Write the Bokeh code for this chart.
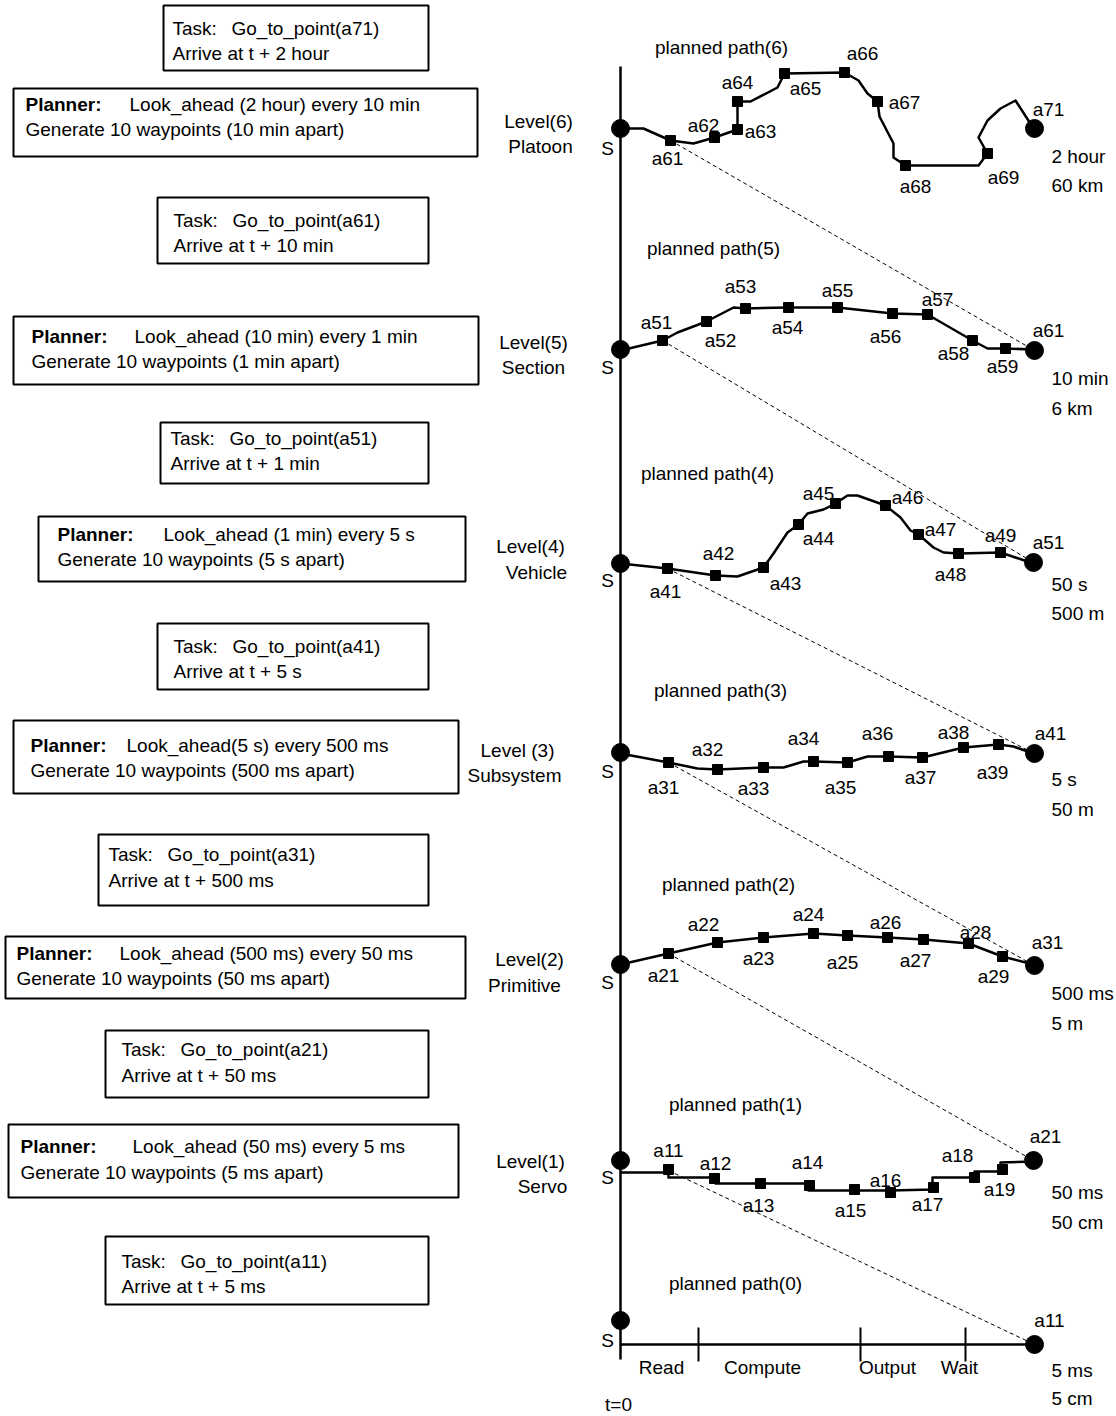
from bokeh.plotting import figure
from bokeh.models import Range1d
from bokeh.embed import file_html
from bokeh.resources import INLINE
from bokeh.core.properties import value

FONT = "Liberation Sans"
FS = "19px"

# ---------------- data (diagram coordinates, y grows downward) ----------------
levels = [6, 5, 4, 3, 2, 1, 0]
level_y = [128, 349, 563, 752, 964, 1160, 1320]        # start circle "S" per level
goal_x = [1034, 1034, 1033, 1034, 1034, 1033, 1034]
goal_y = [128, 350, 562, 753, 965, 1160, 1344]
goal_names = ["a71", "a61", "a51", "a41", "a31", "a21", "a11"]
goal_lbl_x = [1048, 1048, 1048, 1050, 1047, 1045, 1049]
goal_lbl_y = [109, 330, 542, 733, 942, 1136, 1320]

horizon_top = ["2 hour", "10 min", "50 s", "5 s", "500 ms", "50 ms", "5 ms"]
horizon_bot = ["60 km", "6 km", "500 m", "50 m", "5 m", "50 cm", "5 cm"]
horizon_y1 = [156, 378, 584, 779, 993, 1192, 1370]
horizon_y2 = [185, 408, 613, 809, 1023, 1222, 1398]

pp_names = ["planned path(6)", "planned path(5)", "planned path(4)", "planned path(3)",
            "planned path(2)", "planned path(1)", "planned path(0)"]
pp_x = [721, 713, 707, 720, 728, 735, 735]
pp_y = [47, 248, 473, 690, 884, 1104, 1283]

s_lbl_y = [148, 367, 580, 771, 982, 1177, 1340]

# level 6 path
path6_x = [620, 643, 670, 693, 714, 737, 737, 750, 777, 784, 844, 858, 867, 877, 879, 893, 893, 905, 978, 987, 978, 987, 1000, 1015, 1033]
path6_y = [128, 128, 140, 143, 137, 129, 101, 101, 87, 73, 72, 80, 93, 101, 116, 143, 157, 165, 165, 153, 137, 120, 108, 100, 128]
wp6_x = [670, 714, 737, 737, 784, 844, 877, 905, 987]
wp6_y = [140, 137, 129, 101, 73, 72, 101, 165, 153]
lbl6 = ["a61", "a62", "a63", "a64", "a65", "a66", "a67", "a68", "a69"]
lbl6_x = [667, 703, 760, 737, 805, 862, 904, 915, 1003]
lbl6_y = [158, 125, 131, 82, 88, 53, 102, 186, 177]

# level 5 path
path5_x = [620, 662, 677, 706, 733, 745, 788, 837, 892, 927, 972, 987, 1005, 1033]
path5_y = [350, 340, 332, 321, 307, 308, 307, 307, 313, 314, 340, 348, 348, 349]
wp5_x = [662, 706, 745, 788, 837, 892, 927, 972, 1005]
wp5_y = [340, 321, 308, 307, 307, 313, 314, 340, 348]
lbl5 = ["a51", "a52", "a53", "a54", "a55", "a56", "a57", "a58", "a59"]
lbl5_x = [656, 720, 740, 787, 837, 885, 937, 953, 1002]
lbl5_y = [322, 340, 286, 327, 290, 336, 299, 353, 366]

# level 4 path
path4_x = [620, 667, 715, 737, 763, 773, 787, 798, 807, 823, 835, 847, 857, 885, 900, 910, 918, 933, 943, 958, 1000, 1033]
path4_y = [563, 568, 575, 576, 567, 553, 532, 524, 513, 509, 503, 495, 495, 505, 517, 530, 534, 547, 552, 553, 552, 563]
wp4_x = [667, 715, 763, 798, 835, 885, 918, 958, 1000]
wp4_y = [568, 575, 567, 524, 503, 505, 534, 553, 552]
lbl4 = ["a41", "a42", "a43", "a44", "a45", "a46", "a47", "a48", "a49"]
lbl4_x = [665, 718, 785, 818, 818, 907, 940, 950, 1000]
lbl4_y = [591, 553, 583, 538, 493, 497, 529, 574, 535]

# level 3 path
path3_x = [620, 668, 697, 717, 763, 783, 803, 813, 847, 867, 888, 922, 963, 998, 1013, 1033]
path3_y = [753, 762, 768, 769, 767, 767, 761, 761, 762, 756, 756, 757, 747, 744, 746, 753]
wp3_x = [668, 717, 763, 813, 847, 888, 922, 963, 998]
wp3_y = [762, 769, 767, 761, 762, 756, 757, 747, 744]
lbl3 = ["a31", "a32", "a33", "a34", "a35", "a36", "a37", "a38", "a39"]
lbl3_x = [663, 707, 753, 803, 840, 877, 920, 953, 992]
lbl3_y = [787, 749, 788, 738, 787, 733, 777, 732, 772]

# level 2 path
path2_x = [620, 668, 717, 763, 813, 847, 887, 923, 968, 1002, 1033]
path2_y = [964, 953, 942, 937, 933, 935, 937, 939, 943, 956, 964]
wp2_x = [668, 717, 763, 813, 847, 887, 923, 968, 1002]
wp2_y = [953, 942, 937, 933, 935, 937, 939, 943, 956]
lbl2 = ["a21", "a22", "a23", "a24", "a25", "a26", "a27", "a28", "a29"]
lbl2_x = [663, 703, 758, 808, 842, 885, 915, 975, 993]
lbl2_y = [975, 924, 958, 914, 962, 922, 960, 932, 976]

# level 1 path (stepped)
path1_x = [620, 668, 668, 715, 715, 808, 808, 890, 932, 932, 974, 974, 1000, 1000, 1033]
path1_y = [1172, 1172, 1177, 1177, 1183, 1183, 1190, 1190, 1189, 1177, 1177, 1171, 1171, 1162, 1161]
wp1_x = [668, 714, 760, 809, 854, 890, 933, 974, 1002]
wp1_y = [1169, 1178, 1183, 1185, 1189, 1192, 1187, 1177, 1169]
lbl1 = ["a11", "a12", "a13", "a14", "a15", "a16", "a17", "a18", "a19"]
lbl1_x = [668, 715, 758, 807, 850, 885, 927, 957, 999]
lbl1_y = [1150, 1163, 1205, 1162, 1210, 1180, 1204, 1155, 1189]

# dashed projection lines: first waypoint of a level -> goal of the level below
dash_x0 = [670, 662, 667, 668, 668, 668]
dash_y0 = [140, 340, 568, 762, 953, 1170]
dash_x1 = [1034, 1033, 1034, 1034, 1033, 1034]
dash_y1 = [350, 562, 753, 965, 1160, 1344]

# level 0 timeline
phase_ticks = [698, 860, 965]
phase_names = ["Read", "Compute", "Output", "Wait"]
phase_lbl_x = [661, 762, 887, 959]

# level names
level_names1 = ["Level(6)", "Level(5)", "Level(4)", "Level (3)", "Level(2)", "Level(1)"]
level_names2 = ["Platoon", "Section", "Vehicle", "Subsystem", "Primitive", "Servo"]
level_nm_x1 = [538, 533, 530, 517, 529, 530]
level_nm_x2 = [540, 533, 536, 514, 524, 542]
level_nm_y1 = [121, 342, 546, 750, 959, 1161]
level_nm_y2 = [146, 367, 572, 775, 985, 1186]

# task boxes
task_l1 = ["Go_to_point(a71)", "Go_to_point(a61)", "Go_to_point(a51)", "Go_to_point(a41)",
           "Go_to_point(a31)", "Go_to_point(a21)", "Go_to_point(a11)"]
task_l2 = ["Arrive at t + 2 hour", "Arrive at t + 10 min", "Arrive at t + 1 min", "Arrive at t + 5 s",
           "Arrive at t + 500 ms", "Arrive at t + 50 ms", "Arrive at t + 5 ms"]
task_left = [163, 157, 160, 157, 98, 105, 105]
task_right = [428, 428, 428, 428, 428, 428, 428]
task_top = [5, 197, 422, 623, 834, 1030, 1236]
task_bot = [70, 263, 483, 689, 905, 1097, 1304]
task_tx = [172, 173, 170, 173, 108, 121, 121]
task_ty1 = [28, 220, 438, 646, 854, 1049, 1261]
task_ty2 = [53, 245, 463, 671, 880, 1075, 1286]

# planner boxes
plan_l1 = ["Look_ahead (2 hour) every 10 min", "Look_ahead (10 min) every 1 min", "Look_ahead (1 min) every 5 s",
           "Look_ahead(5 s) every 500 ms", "Look_ahead (500 ms) every 50 ms", "Look_ahead (50 ms) every 5 ms"]
plan_l2 = ["Generate 10 waypoints (10 min apart)", "Generate 10 waypoints (1 min apart)",
           "Generate 10 waypoints (5 s apart)", "Generate 10 waypoints (500 ms apart)",
           "Generate 10 waypoints (50 ms apart)", "Generate 10 waypoints (5 ms apart)"]
plan_left = [13, 13, 38, 13, 5, 8]
plan_right = [477, 478, 465, 458, 465, 458]
plan_top = [88, 316, 516, 720, 936, 1124]
plan_bot = [156, 384, 581, 793, 998, 1197]
plan_tx = [25, 31, 57, 30, 16, 20]
plan_lx = [129, 134, 163, 126, 119, 132]
plan_ty1 = [104, 336, 534, 745, 953, 1146]
plan_ty2 = [129, 361, 559, 770, 978, 1172]

# ---------------- figure ----------------
W, H = 1116, 1416
p = figure(width=W, height=H, x_range=Range1d(0, W), y_range=Range1d(H, 0),
           output_backend="svg", toolbar_location=None, min_border=0)
p.axis.visible = False
p.grid.visible = False
p.outline_line_color = None
p.background_fill_color = "white"
p.border_fill_color = "white"

def txt(x, y, t, align="left", style="normal", size=FS):
    p.text(x=x, y=y, text=t, text_font=value(FONT), text_font_size=size,
           text_align=align, text_baseline="middle", text_color="black", text_font_style=style)

# boxes
p.quad(left=task_left, right=task_right, top=task_top, bottom=task_bot,
       fill_color=None, line_color="black", line_width=2)
p.quad(left=plan_left, right=plan_right, top=plan_top, bottom=plan_bot,
       fill_color=None, line_color="black", line_width=2)
txt(task_tx, task_ty1, ["Task:"] * 7)
txt([x + 59 for x in task_tx], task_ty1, task_l1)
txt(task_tx, task_ty2, task_l2)
txt(plan_tx, plan_ty1, ["Planner:"] * 6, style="bold")
txt(plan_lx, plan_ty1, plan_l1)
txt(plan_tx, plan_ty2, plan_l2)

# level names
txt(level_nm_x1, level_nm_y1, level_names1, align="center")
txt(level_nm_x2, level_nm_y2, level_names2, align="center")

# main time axis
p.segment(x0=[620], y0=[66], x1=[620], y1=[1359], line_color="black", line_width=2.5)

# dashed lines
p.segment(x0=dash_x0, y0=dash_y0, x1=dash_x1, y1=dash_y1, line_color="black",
          line_width=1, line_dash="4 3")

# paths
for px, py in [(path6_x, path6_y), (path5_x, path5_y), (path4_x, path4_y),
               (path3_x, path3_y), (path2_x, path2_y), (path1_x, path1_y)]:
    p.line(px, py, line_color="black", line_width=2.5, line_join="round")

for wx, wy, lb, lx, ly in [(wp6_x, wp6_y, lbl6, lbl6_x, lbl6_y), (wp5_x, wp5_y, lbl5, lbl5_x, lbl5_y),
                           (wp4_x, wp4_y, lbl4, lbl4_x, lbl4_y), (wp3_x, wp3_y, lbl3, lbl3_x, lbl3_y),
                           (wp2_x, wp2_y, lbl2, lbl2_x, lbl2_y), (wp1_x, wp1_y, lbl1, lbl1_x, lbl1_y)]:
    p.scatter(wx, wy, marker="square", size=10, fill_color="black", line_color="black")
    txt(lx, ly, lb, align="center")

# level 0 timeline
p.segment(x0=[620], y0=[1344], x1=[1034], y1=[1344], line_color="black", line_width=2.5)
p.segment(x0=phase_ticks, y0=[1327] * 3, x1=phase_ticks, y1=[1361] * 3, line_color="black", line_width=2)
txt(phase_lbl_x, [1367] * 4, phase_names, align="center")
txt([618], [1404], ["t=0"], align="center")

# start and goal circles
p.scatter([620] * 7, level_y, marker="circle", size=18, fill_color="black", line_color="black")
p.scatter(goal_x, goal_y, marker="circle", size=18, fill_color="black", line_color="black")
txt([607] * 7, s_lbl_y, ["S"] * 7, align="center")
txt(goal_lbl_x, goal_lbl_y, goal_names, align="center")

# planned path titles and horizons
txt(pp_x, pp_y, pp_names, align="center")
txt([1051] * 7, horizon_y1, horizon_top)
txt([1051] * 7, horizon_y2, horizon_bot)

open("out.html", "w").write(file_html(p, INLINE))
